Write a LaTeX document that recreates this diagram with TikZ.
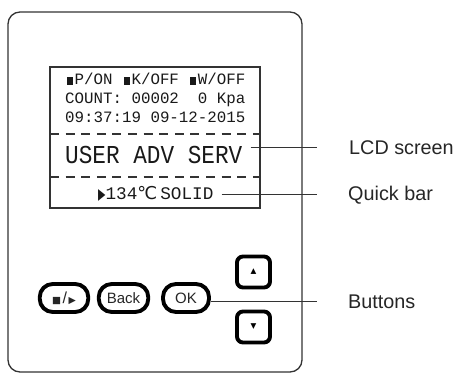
\documentclass[tikz,border=0pt]{standalone}
\usepackage{fontspec}
\usepackage{graphicx}
\setmainfont{Liberation Sans}
\newfontfamily\lcdfont{Liberation Mono}
\newfontfamily\symfont{DejaVu Sans}
\newcommand{\sqmark}{\makebox[0.6em][c]{\rule[0.02em]{0.36em}{0.5em}}}
\begin{document}
\begin{tikzpicture}[x=1pt,y=-1pt,
  frame/.style={draw=black!80, line width=1.3pt, inner sep=0pt},
  btn/.style={draw=black, line width=3.9pt, rounded corners=13pt, inner sep=0pt, minimum height=28pt, font=\fontsize{15}{16}\selectfont, text=black!85},
  sqbtn/.style={draw=black, line width=3.9pt, rounded corners=6pt, minimum width=33pt, minimum height=31pt, inner sep=0pt},
  lcdtxt/.style={anchor=base west, inner sep=0pt, font=\lcdfont\fontsize{15.8}{16}\selectfont, text=black!90},
  lbl/.style={anchor=base west, inner sep=0pt, font=\fontsize{19.8}{22}\selectfont, text=black!85},
  leader/.style={draw=black!80, line width=0.8pt},
  dashline/.style={draw=black!80, line width=1.2pt, dash pattern=on 9pt off 6.6pt}
]
\useasboundingbox (0,0) rectangle (455,374);
% case
\node[frame, rounded corners=12pt, minimum width=294pt, minimum height=360pt] (case) at (155,192) {};
% lcd
\node[frame, line width=1.2pt, minimum width=210pt, minimum height=141pt] (lcd) at (155,137.5) {};
\coordinate (d1) at (50,134);
\coordinate (d2) at (50,177);
\draw[dashline] (d1) -- (d1 -| lcd.east);
\draw[dashline] (d2) -- (d2 -| lcd.east);
% lcd text
\node[lcdtxt] (l1) at (65,85) {\sqmark P/ON \sqmark K/OFF \sqmark W/OFF};
\node[lcdtxt] (l2) at (65,104) {COUNT: 00002~~0 Kpa};
\node[lcdtxt] (l3) at (65,123) {09:37:19 09-12-2015};
\node[lcdtxt, font=\lcdfont\fontsize{25.8}{26}\selectfont] (serv) at (65,164) {\scalebox{0.88}[1]{USER ADV SERV}};
\node[lcdtxt, font=\lcdfont\fontsize{17.7}{18}\selectfont] (quick) at (98,200) {\scalebox{0.62}[1]{\symfont\fontsize{15.5}{16}\selectfont ▶}134{\symfont ℃}\,SOLID};
% buttons
\node[btn, minimum width=48.5pt] (play) at (64,298) {{\symfont\fontsize{9.5}{10}\selectfont ■}\hspace{1.5pt}{\fontsize{16}{16}\selectfont /}\hspace{1.5pt}{\symfont\fontsize{9.5}{10}\selectfont ▶}};
\node[btn, minimum width=49.5pt] (back) at (123.5,298) {Back};
\node[btn, minimum width=46pt] (ok) at (186,298) {OK};
\node[sqbtn] (up) at (253.5,272) {{\symfont\fontsize{7.5}{8}\selectfont ▲}};
\node[sqbtn] (down) at (253.5,327) {{\symfont\fontsize{7.5}{8}\selectfont ▼}};
% labels
\node[lbl] (lcdlabel) at (349,155) {LCD screen};
\node[lbl] (qlabel) at (348,201) {Quick bar};
\node[lbl] (blabel) at (348,308) {Buttons};
% leaders
\coordinate (lcdtip) at (317,147);
\coordinate (qtip) at (317,194);
\coordinate (btip) at (317,301);
\draw[leader] ([xshift=8pt]serv.east |- lcdtip) -- (lcdtip);
\draw[leader] ([xshift=8pt]quick.east |- qtip) -- (qtip);
\draw[leader] (ok.east |- btip) -- (btip);
\end{tikzpicture}
\end{document}
